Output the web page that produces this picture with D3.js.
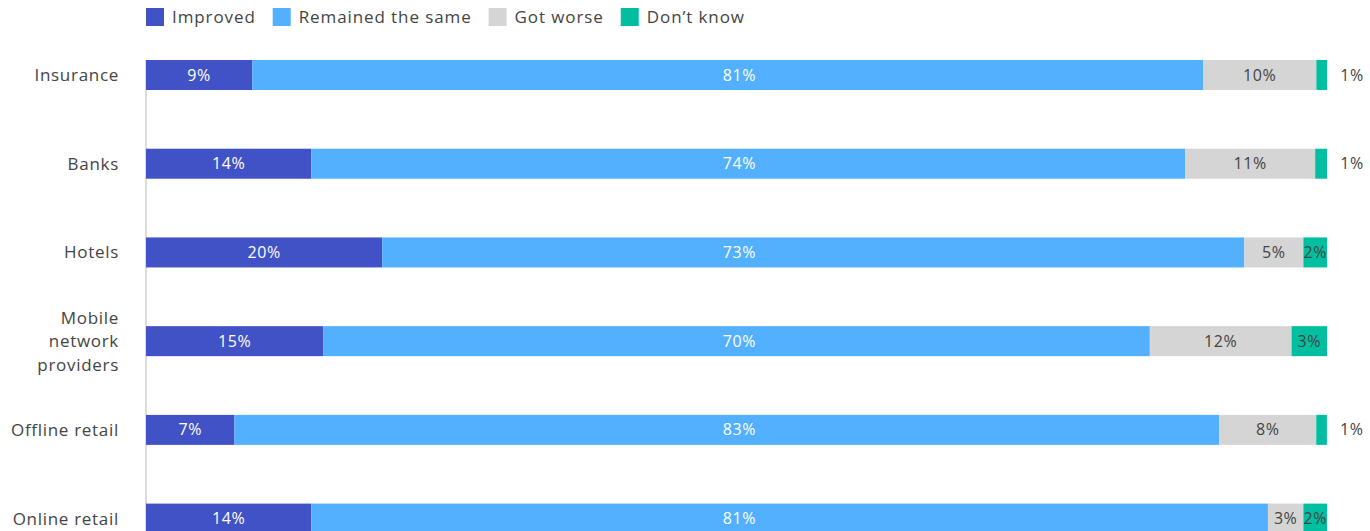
<!DOCTYPE html>
<html><head><meta charset="utf-8">
<script src="https://cdn.jsdelivr.net/npm/d3@7"></script>
<style>
html,body{margin:0;padding:0;background:#fff;overflow:hidden}
svg{display:block;font-family:"Open Sans","Noto Sans",sans-serif;font-weight:400}
</style></head>
<body><svg id="c" width="1370" height="531"></svg>
<script>
const categories = ["Insurance","Banks","Hotels","Mobile network providers","Offline retail","Online retail"];
const seriesNames = ["Improved","Remained the same","Got worse","Don\u2019t know"];
const improved  = [9.0, 14, 20, 15, 7.49, 14];
const remained  = [80.5, 74, 73, 70, 83.4, 81];
const gotWorse  = [9.6, 11, 5, 12, 8.2, 3];
const dontKnow  = [0.9, 1, 2, 3, 0.9, 2];
const colors = ["#4151C6","#52B0FF","#D5D5D5","#00BFA0"];
const labelColors = ["#ffffff","#ffffff","#444444","#444444"];

const series = [improved, remained, gotWorse, dontKnow];
const rows = categories.map((c,i)=>{
  const o = {cat:c};
  seriesNames.forEach((s,j)=>o[s]=series[j][i]);
  return o;
});
const stack = d3.stack().keys(seriesNames)(rows);

const svg = d3.select("#c");
const x = d3.scaleLinear().domain([0,100]).range([146,1327]);
const y = d3.scalePoint().domain(categories).range([75,518.6]);
const barH = 30;

svg.append("line").attr("x1",146).attr("x2",146).attr("y1",60).attr("y2",531)
  .attr("stroke","#dcdcdc").attr("stroke-width",2);

const g = svg.append("g");
stack.forEach((layer,j)=>{
  const lg = g.append("g");
  lg.selectAll("rect").data(layer).join("rect")
    .attr("x",d=>x(d[0])).attr("width",d=>x(d[1])-x(d[0]))
    .attr("y",d=>y(d.data.cat)-barH/2).attr("height",barH)
    .attr("fill",colors[j]);
  lg.selectAll("text").data(layer).join("text")
    .attr("x",d=>{
      const w = x(d[1])-x(d[0]);
      if (w < 20) return x(d[1])+25;
      if (j === 1) return (x.range()[0]+x.range()[1])/2 + 3;
      return (x(d[0])+x(d[1]))/2;
    })
    .attr("y",d=>y(d.data.cat))
    .attr("dy","0.35em")
    .attr("text-anchor","middle")
    .attr("font-size",16)
    .attr("letter-spacing","0.6px")
    .attr("fill",d=>(x(d[1])-x(d[0]) < 20) ? "#444444" : labelColors[j])
    .text(d=>Math.round(d[1]-d[0])+"%");
});

const yl = svg.append("g");
categories.forEach(c=>{
  const lines = c==="Mobile network providers" ? ["Mobile","network","providers"] : [c];
  const t = yl.append("text").attr("text-anchor","end").attr("font-size",17)
    .attr("letter-spacing","0.7px").attr("fill","#444444");
  const lh = 23.5;
  lines.forEach((ln,k)=>{
    t.append("tspan").attr("x",119)
      .attr("y",y(c)+(k-(lines.length-1)/2)*lh).attr("dy","0.35em").text(ln);
  });
});

const leg = svg.append("g");
let lx = 146;
seriesNames.forEach((s,j)=>{
  leg.append("rect").attr("x",lx).attr("y",8).attr("width",18).attr("height",18).attr("fill",colors[j]);
  const t = leg.append("text").attr("x",lx+26).attr("y",17).attr("dy","0.35em")
    .attr("font-size",17).attr("letter-spacing","0.9px").attr("fill","#444444").text(s);
  lx += 26 + t.node().getComputedTextLength() + 17;
});
</script></body></html>
